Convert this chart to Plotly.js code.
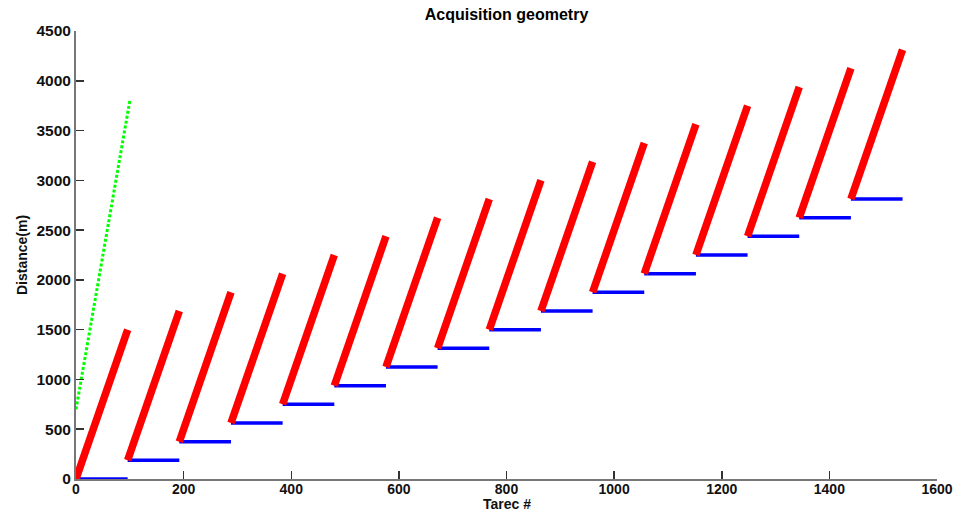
<!DOCTYPE html>
<html>
<head>
<meta charset="utf-8">
<script src="https://cdn.plot.ly/plotly-3.0.1.min.js"></script>
<style>html,body{margin:0;padding:0;background:#fff;}#chart{width:966px;height:513px;}</style>
</head>
<body>
<div id="chart"></div>
<script>
// Shot groups: receiver spread start/end (Tarec #) and distances (m)
var groupStartX = [0, 96, 192, 288, 384, 480, 576, 672, 768, 864, 960, 1056, 1152, 1248, 1344, 1440];
var groupEndX   = [96, 192, 288, 384, 480, 576, 672, 768, 864, 960, 1056, 1152, 1248, 1344, 1440, 1536];
var sourceY     = [0, 187.5, 375, 562.5, 750, 937.5, 1125, 1312.5, 1500, 1687.5, 1875, 2062.5, 2250, 2437.5, 2625, 2812.5];
var receiverTopY = [1500, 1687.5, 1875, 2062.5, 2250, 2437.5, 2625, 2812.5, 3000, 3187.5, 3375, 3562.5, 3750, 3937.5, 4125, 4312.5];
var greenX = [0, 100];
var greenY = [700, 3800];
var xTicks = [0, 200, 400, 600, 800, 1000, 1200, 1400, 1600];
var yTicks = [0, 500, 1000, 1500, 2000, 2500, 3000, 3500, 4000, 4500];

var redX = [], redY = [], blueX = [], blueY = [];
for (var i = 0; i < groupStartX.length; i++) {
  redX.push(groupStartX[i], groupEndX[i], null);
  redY.push(sourceY[i], receiverTopY[i], null);
  blueX.push(groupStartX[i], groupEndX[i], null);
  blueY.push(sourceY[i], sourceY[i], null);
}

var traces = [
  {x: blueX, y: blueY, mode: 'lines', line: {color: '#0000ff', width: 3.5}, hoverinfo: 'skip'},
  {x: redX, y: redY, mode: 'lines', line: {color: '#ff0000', width: 7.5}, hoverinfo: 'skip'},
  {x: greenX, y: greenY, mode: 'lines', line: {color: '#00ff00', width: 3, dash: '3px,2px'}, hoverinfo: 'skip'}
];

var FAM = 'Liberation Sans, Arial, sans-serif';
var layout = {
  width: 966, height: 513,
  margin: {l: 76, r: 29, t: 31, b: 34, pad: 0},
  paper_bgcolor: '#fff', plot_bgcolor: '#fff',
  showlegend: false,
  title: {text: '<b>Acquisition geometry</b>', font: {family: FAM, size: 16, color: '#000'}, x: 0.5, xref: 'paper', y: 0.972, yanchor: 'middle'},
  xaxis: {
    range: [0, 1600], tickvals: xTicks, ticktext: xTicks.map(function(v){return '<b>'+v+'</b>';}),
    ticks: 'inside', ticklen: 8, tickwidth: 1.5, tickcolor: '#333',
    showline: true, linecolor: '#777', linewidth: 2, showgrid: false, zeroline: false,
    tickfont: {family: FAM, size: 14, color: '#111'}, mirror: false, ticklabelstandoff: -4
  },
  yaxis: {
    range: [0, 4500], tickvals: yTicks, ticktext: yTicks.map(function(v){return '<b>'+v+'</b>';}),
    ticks: 'inside', ticklen: 8, tickwidth: 1.5, tickcolor: '#333',
    showline: true, linecolor: '#777', linewidth: 2, showgrid: false, zeroline: false,
    tickfont: {family: FAM, size: 15.5, color: '#111'},
    title: {text: '<b>Distance(m)</b>', font: {family: FAM, size: 14, color: '#111'}, standoff: 6}
  },
  annotations: [{
    text: '<b>Tarec #</b>', xref: 'paper', yref: 'paper', x: 0.5, y: -0.0755,
    xanchor: 'center', yanchor: 'bottom', showarrow: false, borderpad: 0,
    font: {family: FAM, size: 14, color: '#111'}
  }]
};
Plotly.newPlot('chart', traces, layout, {staticPlot: true, displayModeBar: false});
</script>
</body>
</html>
